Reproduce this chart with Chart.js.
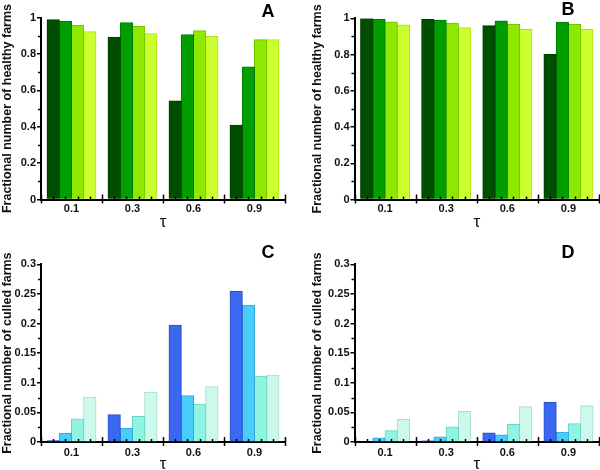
<!DOCTYPE html>
<html>
<head>
<meta charset="utf-8">
<script src="https://cdn.jsdelivr.net/npm/chart.js@4.4.1/dist/chart.umd.min.js"></script>
<style>
  body { margin: 0; background: #fff; }
  #wrap { position: relative; width: 600px; height: 470px; }
  .cell { position: absolute; width: 300px; height: 235px; }
</style>
</head>
<body>
<div id="wrap">
  <div class="cell" style="left:0;top:0"><canvas id="chartA" width="300" height="235"></canvas></div>
  <div class="cell" style="left:300px;top:0"><canvas id="chartB" width="300" height="235"></canvas></div>
  <div class="cell" style="left:0;top:235px"><canvas id="chartC" width="300" height="235"></canvas></div>
  <div class="cell" style="left:300px;top:235px"><canvas id="chartD" width="300" height="235"></canvas></div>
</div>
<script>
// categories (tau)
const tauLabels = ['0.1', '0.3', '0.6', '0.9'];

// panel A - fractional number of healthy farms
const healthyA1 = [0.987, 0.892, 0.541, 0.408];
const healthyA2 = [0.978, 0.971, 0.905, 0.728];
const healthyA3 = [0.956, 0.951, 0.927, 0.878];
const healthyA4 = [0.922, 0.911, 0.896, 0.878];

// panel B
const healthyB1 = [0.998, 0.994, 0.959, 0.800];
const healthyB2 = [0.994, 0.989, 0.985, 0.978];
const healthyB3 = [0.980, 0.972, 0.966, 0.966];
const healthyB4 = [0.963, 0.948, 0.938, 0.938];

// panel C - fractional number of culled farms
const culledC1 = [0.002, 0.046, 0.197, 0.254];
const culledC2 = [0.0146, 0.023, 0.078, 0.231];
const culledC3 = [0.039, 0.043, 0.0636, 0.111];
const culledC4 = [0.0754, 0.084, 0.0934, 0.1126];

// panel D
const culledD1 = [0, 0.0017, 0.0153, 0.0672];
const culledD2 = [0.0068, 0.0085, 0.0119, 0.0164];
const culledD3 = [0.0192, 0.0254, 0.0294, 0.031];
const culledD4 = [0.0379, 0.0514, 0.0593, 0.061];

const greens = ['#004f00', '#009e00', '#8fe800', '#ccff2e'];
const greenEdges = ['#003a00', '#007a00', '#72c400', '#aee01a'];
const blues = ['#3a68f0', '#48cdfc', '#8ef5e3', '#cdf9ec'];
const blueEdges = ['#2a50c8', '#30a8d8', '#6cd4c2', '#a8dccc'];

const FONT = "'Liberation Sans', Arial, sans-serif";

// minor ticks and panel letters
const axisExtras = {
    id: 'axisExtras',
    afterDraw(chart, args, opts) {
        const ctx = chart.ctx;
        const area = chart.chartArea;
        const y = chart.scales.y;
        ctx.save();
        ctx.strokeStyle = '#000';
        ctx.lineWidth = 1.5;
        // minor y ticks
        for (let v = opts.minor; v < y.max; v += opts.minor * 2) {
            const py = Math.round(y.getPixelForValue(v)) + 0.5;
            ctx.beginPath();
            ctx.moveTo(area.left - 3, py);
            ctx.lineTo(area.left, py);
            ctx.stroke();
        }
        // category boundary ticks crossing the x axis
        const n = tauLabels.length;
        const cw = (area.right - area.left) / n;
        for (let i = 0; i <= n; i++) {
            const px = Math.round(area.left + i * cw) + 0.5;
            ctx.beginPath();
            ctx.moveTo(px, area.bottom - 5);
            ctx.lineTo(px, area.bottom + 4);
            ctx.stroke();
        }
        // small ticks at bar centres
        chart.data.datasets.forEach((ds, d) => {
            chart.getDatasetMeta(d).data.forEach(bar => {
                const px = Math.round(bar.x) + 0.5;
                ctx.beginPath();
                ctx.moveTo(px, area.bottom - 3);
                ctx.lineTo(px, area.bottom);
                ctx.stroke();
            });
        });
        // panel letter
        ctx.fillStyle = '#000';
        ctx.font = 'bold 18px ' + FONT;
        ctx.textAlign = 'center';
        ctx.textBaseline = 'middle';
        ctx.fillText(opts.letter, opts.lx, opts.ly);
        ctx.restore();
    }
};

function makeChart(id, series, colors, edges, cfg) {
    const ctx = document.getElementById(id).getContext('2d');
    return new Chart(ctx, {
        type: 'bar',
        data: {
            labels: tauLabels,
            datasets: series.map((s, i) => ({
                data: s,
                backgroundColor: colors[i],
                borderColor: edges[i],
                borderWidth: 1,
                inflateAmount: 0.5,
                categoryPercentage: 0.8,
                barPercentage: 1.0
            }))
        },
        options: {
            responsive: false,
            animation: false,
            layout: {
                padding: { left: cfg.padL, top: cfg.top, right: 300 - cfg.right, bottom: 0 }
            },
            plugins: {
                legend: { display: false },
                tooltip: { enabled: false },
                axisExtras: { minor: cfg.minor, letter: cfg.letter, lx: cfg.lx, ly: cfg.ly }
            },
            scales: {
                x: {
                    grid: { display: false, drawTicks: false },
                    border: { display: true, color: '#000', width: 2 },
                    ticks: { color: '#111', font: { family: FONT, size: 11, weight: 'bold' }, padding: cfg.xPad },
                    title: {
                        display: true, text: 'τ', color: '#111',
                        font: { family: FONT, size: 17 },
                        padding: { top: 0, bottom: cfg.tauPad }
                    },
                    afterFit: s => { s.height = 235 - cfg.bottom; }
                },
                y: {
                    min: 0,
                    max: cfg.max,
                    grid: { drawOnChartArea: false, drawTicks: true, tickLength: 4, color: '#000', lineWidth: 1.5 },
                    border: { display: true, color: '#000', width: 2 },
                    ticks: {
                        stepSize: cfg.step, color: '#111', padding: 1,
                        font: { family: FONT, size: 11, weight: 'bold' },
                        callback: v => String(Math.round(v * 1000) / 1000)
                    },
                    title: {
                        display: true, text: cfg.ytitle, color: '#111',
                        font: { family: FONT, size: 12.5, weight: 'bold' },
                        padding: 0
                    },
                    afterFit: s => { s.width = cfg.left - cfg.padL; }
                }
            }
        },
        plugins: [axisExtras]
    });
}

const healthyTitle = 'Fractional number of healthy farms';
const culledTitle = 'Fractional number of culled farms';

makeChart('chartA', [healthyA1, healthyA2, healthyA3, healthyA4], greens, greenEdges,
    { padL: 0, left: 41, top: 17.5, right: 285, bottom: 199.5, max: 1, step: 0.2, minor: 0.1,
      ytitle: healthyTitle, letter: 'A', lx: 268, ly: 12, xPad: 3, tauPad: 2 });
makeChart('chartB', [healthyB1, healthyB2, healthyB3, healthyB4], greens, greenEdges,
    { padL: 10, left: 54.5, top: 18.3, right: 299, bottom: 199.5, max: 1, step: 0.2, minor: 0.1,
      ytitle: healthyTitle, letter: 'B', lx: 268, ly: 10, xPad: 3, tauPad: 2 });
makeChart('chartC', [culledC1, culledC2, culledC3, culledC4], blues, blueEdges,
    { padL: 0, left: 41, top: 29.3, right: 285, bottom: 207, max: 0.3, step: 0.05, minor: 0.025,
      ytitle: culledTitle, letter: 'C', lx: 268, ly: 18, xPad: 4, tauPad: -5 });
makeChart('chartD', [culledD1, culledD2, culledD3, culledD4], blues, blueEdges,
    { padL: 10, left: 54.5, top: 29.3, right: 299, bottom: 207, max: 0.3, step: 0.05, minor: 0.025,
      ytitle: culledTitle, letter: 'D', lx: 268, ly: 18, xPad: 4, tauPad: -5 });
</script>
</body>
</html>
